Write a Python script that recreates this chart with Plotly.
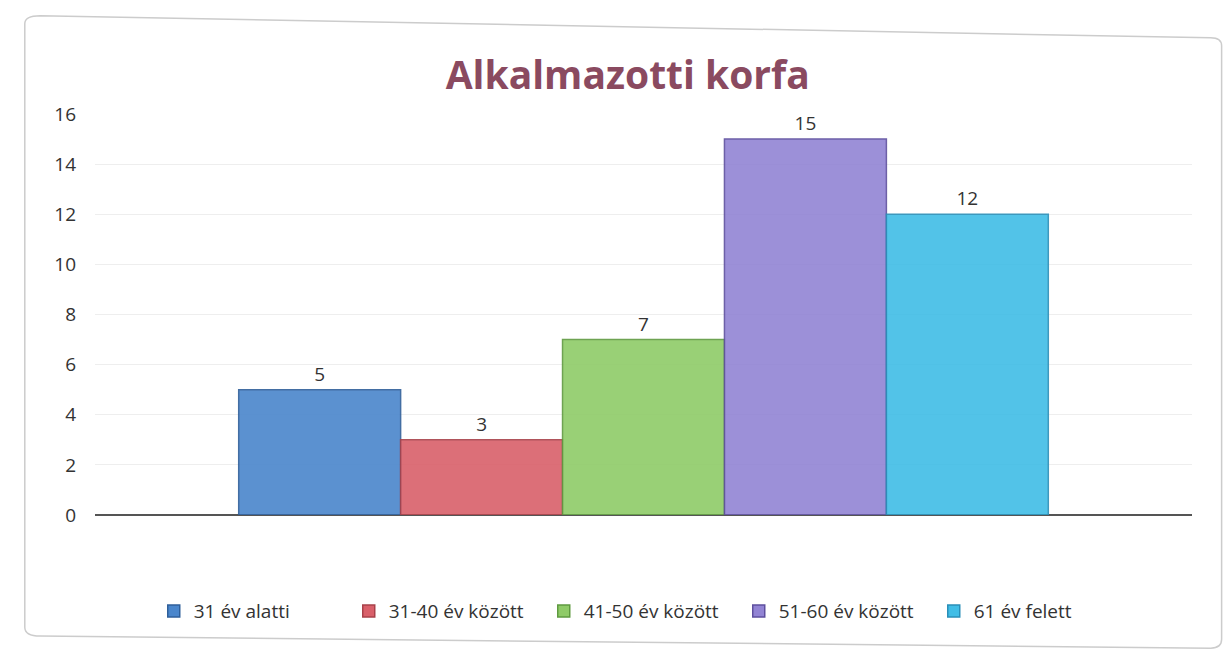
import plotly.graph_objects as go

categories = ["31 év alatti", "31-40 év között", "41-50 év között", "51-60 év között", "61 év felett"]
values = [5, 3, 7, 15, 12]
colors = ["#4a86cc", "#d9606a", "#8fcb68", "#9284d4", "#40bde6"]
edge_colors = ["#2f5f9a", "#a8414a", "#5f9a40", "#5e4f9e", "#2a8fb8"]
y_ticks = [0, 2, 4, 6, 8, 10, 12, 14, 16]

fig = go.Figure()
for name, v, c, e in zip(categories, values, colors, edge_colors):
    fig.add_trace(go.Bar(
        x=[""], y=[v], name=name,
        marker=dict(color=c, line=dict(color=e, width=1.5), opacity=0.9),
        text=[str(v)], textposition="outside",
        textfont=dict(size=19, color="#333333", family="Open Sans"),
        cliponaxis=False,
    ))

fig.update_layout(
    width=1232, height=652,
    paper_bgcolor="white", plot_bgcolor="white",
    margin=dict(l=87, r=48, t=106, b=145, autoexpand=False),
    barmode="group", bargap=0.262, bargroupgap=0,
    title=dict(text="<b>Alkalmazotti korfa</b>", x=0.503, xanchor="center", y=0.897, yanchor="middle",
               font=dict(size=39, color="#8a4a60", family="Open Sans")),
    font=dict(family="Open Sans", color="#333333"),
    showlegend=True,
    legend=dict(orientation="h", xref="container", yref="container", x=0.514, xanchor="center",
                y=0.075, yanchor="middle",
                font=dict(size=19, color="#333333"), itemwidth=30, traceorder="normal",
                entrywidth=150),
    xaxis=dict(showticklabels=False, showgrid=False, zeroline=False, showline=False),
    yaxis=dict(range=[0, 16], tickvals=y_ticks, ticktext=[str(t) for t in y_ticks],
               showgrid=True, gridcolor="#eeeeee", gridwidth=1,
               zeroline=True, zerolinecolor="#555555", zerolinewidth=2,
               tickfont=dict(size=19, color="#333333"), ticks="", ticklabelstandoff=18),
    shapes=[dict(type="path", xref="paper", yref="paper",
                 path="M -0.05 1.245 L 1.017 1.19 Q 1.027 1.19 1.027 1.17 L 1.027 -0.31 Q 1.027 -0.332 1.017 -0.332 L -0.05 -0.302 Q -0.064 -0.302 -0.064 -0.28 L -0.064 1.225 Q -0.064 1.245 -0.05 1.245 Z",
                 line=dict(color="#cccccc", width=1.5), fillcolor="rgba(0,0,0,0)", layer="below")],
)

fig.write_html("out.html")
